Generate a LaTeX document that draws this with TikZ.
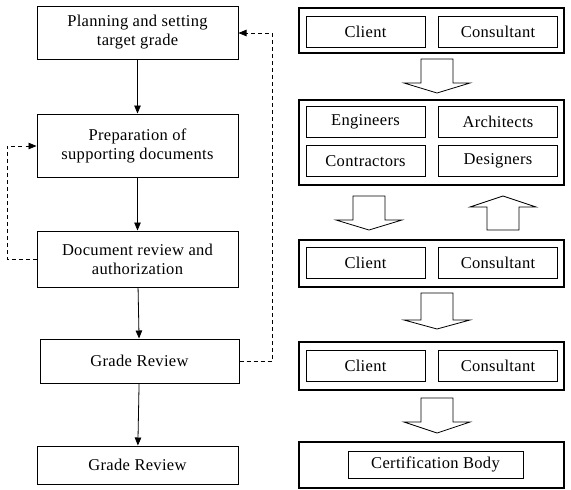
\documentclass[tikz,border=0pt]{standalone}
\usepackage{fontspec}
\setmainfont{Liberation Serif}[LetterSpace=2]
\usetikzlibrary{arrows.meta,positioning,calc}
\newcommand{\blk}[4]{\draw[blk] (#1-16,#2) -- (#1-16,#3) -- (#1-33,#3) -- (#1,#4) -- (#1+33,#3) -- (#1+16,#3) -- (#1+16,#2) -- cycle;}

\begin{document}
\begin{tikzpicture}[x=1pt, y=-1pt, font=\fontsize{16.5}{19}\selectfont,
    lbox/.style={rectangle, draw, line width=1pt, minimum width=201pt, align=center, inner sep=0pt},
    obox/.style={rectangle, draw, line width=1.4pt, minimum width=265pt, inner sep=0pt},
    ibox/.style={rectangle, draw, line width=1pt, minimum width=119pt, minimum height=31pt, inner sep=0pt},
    flow/.style={-{Triangle[length=8pt,width=6.5pt]}, line width=0.8pt},
    back/.style={-{Triangle[length=8pt,width=6.5pt]}, line width=0.8pt, dash pattern=on 4pt off 3pt},
    blk/.style={line width=0.8pt, fill=white}]
\useasboundingbox (0,0) rectangle (571,490);
% left: process steps
\node[lbox, minimum height=53pt] (plan) at (137.5,32.5) {Planning and setting\\target grade};
\node[lbox, minimum height=63pt] (prep) at (137.5,145.5) {Preparation of\\supporting documents};
\node[lbox, minimum height=56pt] (docrev) at (137.5,259) {Document review and\\authorization};
\node[lbox, minimum width=199pt, minimum height=44pt] (grade) at (139.5,361) {Grade Review};
\node[lbox, minimum height=38pt] (final) at (137.5,465) {Grade Review};
\draw[flow] (plan) -- (prep);
\draw[flow] (prep) -- (docrev);
\draw[flow] (docrev) -- (grade);
\draw[flow] (grade) -- (final);
% feedback loops
\coordinate (r1) at (272,361);
\coordinate (r2) at (272,33);
\draw[back] (grade.east) -- (r1) -- (r2) -- (plan.east |- r2);
\coordinate (l1) at (7,259);
\coordinate (l2) at (7,146);
\draw[back] (docrev.west) -- (l1) -- (l2) -- (prep.west |- l2);
% right: parties
\node[obox, minimum height=45pt] (o1) at (431.5,30.5) {};
\node[ibox] (cl1) at (365.5,31.5) {Client};
\node[ibox] (co1) at (498,31.5) {Consultant};
\node[obox, minimum height=85pt] (o2) at (431.5,142.5) {};
\node[ibox] (eng) at (365.5,122) {Engineers};
\node[ibox] (arc) at (498,122) {Architects};
\node[ibox] (con) at (365.5,161) {Contractors};
\node[ibox] (des) at (498,161) {Designers};
\node[obox, minimum height=47pt] (o3) at (431.5,263.5) {};
\node[ibox] (cl2) at (365.5,263) {Client};
\node[ibox] (co2) at (498,263) {Consultant};
\node[obox, minimum height=48pt] (o4) at (431.5,366) {};
\node[ibox] (cl3) at (365.5,366) {Client};
\node[ibox] (co3) at (498,366) {Consultant};
\node[obox, minimum height=46pt] (o5) at (431.5,465) {};
\node[ibox, minimum width=175pt, minimum height=27pt] (cert) at (435.5,464.5) {Certification Body};
% block arrows
\blk{437}{59}{83}{93}
\blk{369}{196}{220}{230}
\blk{503}{230}{207}{196}
\blk{437}{293}{320}{329}
\blk{437}{398}{422}{433}
\end{tikzpicture}
\end{document}
